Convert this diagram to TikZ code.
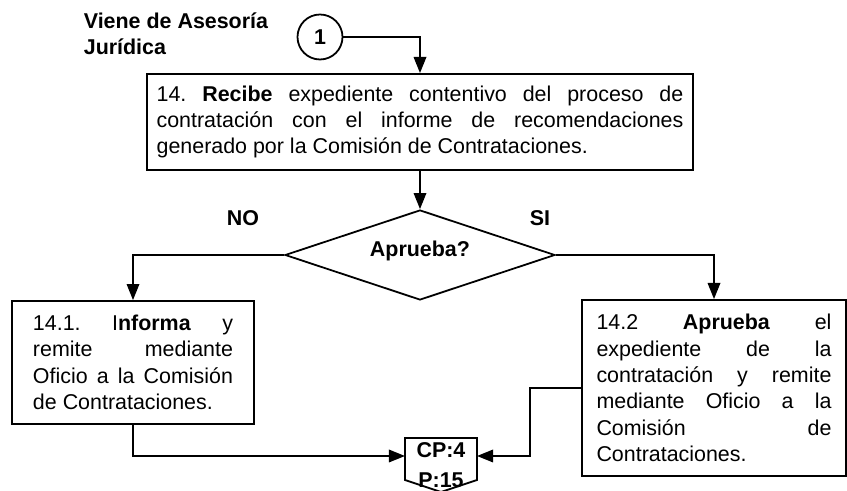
\documentclass[tikz,border=0pt]{standalone}
\usepackage{fontspec}
\setmainfont{Liberation Sans}
\usetikzlibrary{arrows.meta,shapes.geometric}
\frenchspacing

\begin{document}
\begin{tikzpicture}[x=0.56pt,y=-0.56pt,line width=1pt,
    font=\fontsize{12}{14.8}\selectfont,
    negrita/.style={font=\fontsize{12}{14.4}\selectfont\bfseries},
    caja/.style={draw,rectangle,align=justify,inner ysep=0pt},
    flecha/.style={-{Triangle[length=9pt,width=7pt]}}]
        \useasboundingbox (0,0) rectangle (847,491);

        \node[anchor=west,align=left,negrita] at (77,34) (viene) {Viene de Asesoría\\Jurídica};
        \node[draw,circle,minimum size=25.2pt,inner sep=0pt,negrita] at (320,37) (uno) {1};

        \node[caja,text width=295pt,inner xsep=5.5pt,minimum height=53.8pt] at (420,122) (rec)
            {14. \textbf{Recibe} expediente contentivo del proceso de\linebreak
             contratación con el informe de recomendaciones\linebreak
             generado por la Comisión de Contrataciones.};

        \node[draw,diamond,minimum width=151.2pt,minimum height=50.4pt,inner sep=0pt] at (420,255) (dec) {};
        \node[negrita] at (420,251) (q) {Aprueba?};
        \node[negrita] at (243,218) (no) {NO};
        \node[negrita] at (540,218) (si) {SI};

        \node[caja,text width=112pt,inner xsep=11.8pt,minimum height=68.9pt] at (133,362.5) (inf)
            {14.1. I\textbf{nforma} y\linebreak
             remite mediante\linebreak
             Oficio a la Comisión\linebreak
             de Contrataciones.};

        \node[caja,text width=131.6pt,inner xsep=8.1pt,minimum height=98.6pt] at (714,388) (apr)
            {14.2 \textbf{Aprueba} el\linebreak
             expediente de la\linebreak
             contratación y remite\linebreak
             mediante Oficio a la\linebreak
             Comisión de\linebreak
             Contrataciones.};

        % conector de pagina
        \node[align=center,font=\fontsize{12}{16.5}\selectfont\bfseries] at (441,465) (cp) {CP:4\\P:15};
        \draw (405,438) -- (477,438) -- (477,480) -- (441,492) -- (405,480) -- cycle;
        \coordinate (cpw) at (405,456);
        \coordinate (cpe) at (477,456);
        \coordinate (codo) at (530,388);

        \draw[flecha] (uno.east) -| (rec.north);
        \draw[flecha] (rec.south) -- (dec.north);
        \draw[flecha] (dec.west) -| (inf.north);
        \draw[flecha] (dec.east) -| (apr.north);
        \draw[flecha] (inf.south) |- (cpw);
        \draw[flecha] (apr.west) -- (codo) |- (cpe);

    \end{tikzpicture}
\end{document}
